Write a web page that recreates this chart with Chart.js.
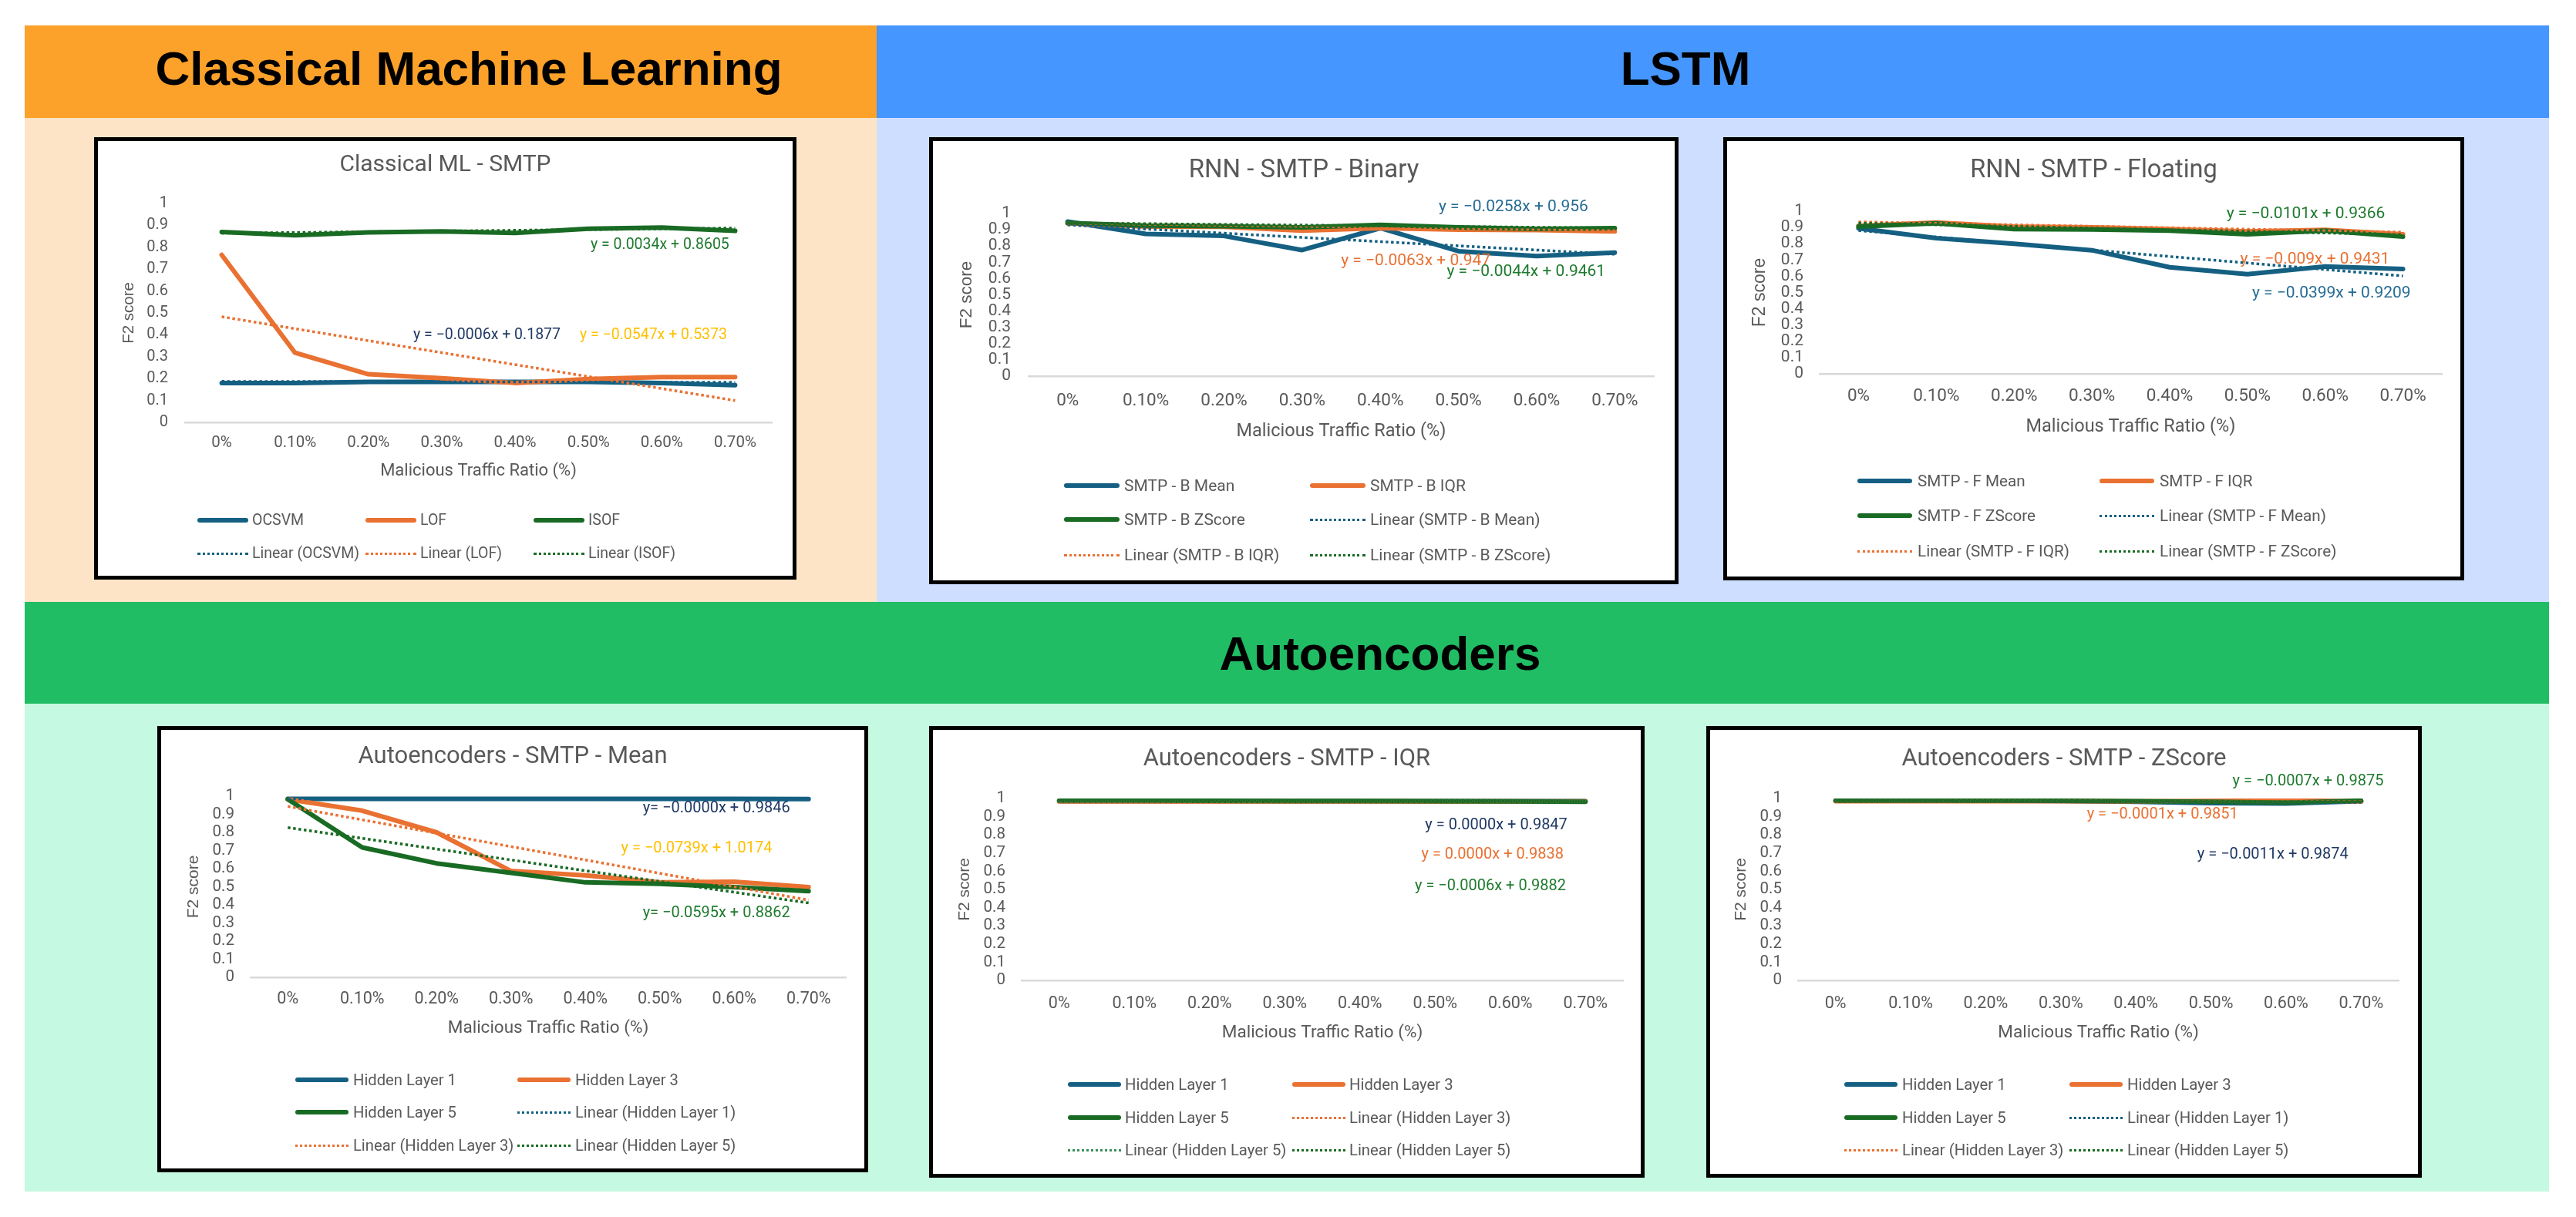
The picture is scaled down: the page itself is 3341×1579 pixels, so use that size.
<!DOCTYPE html>
<html><head><meta charset="utf-8">
<script src="https://cdn.jsdelivr.net/npm/chart.js@4.4.1/dist/chart.umd.min.js"></script>
<style>
html,body{margin:0;padding:0;background:#fff;}
body{width:3341px;height:1579px;position:relative;overflow:hidden;font-family:Roboto,sans-serif;}
.band{position:absolute;}
.hdr{position:absolute;font-family:"Liberation Sans",Arial,sans-serif;font-weight:bold;font-size:62px;color:#000;white-space:nowrap;transform:translate(-50%,-50%);line-height:1;}
.box{position:absolute;background:#fff;border:5px solid #000;box-sizing:border-box;}
.lg{position:absolute;white-space:nowrap;color:#595959;font-family:Roboto,sans-serif;line-height:1;transform:translateY(-50%);}
canvas{position:absolute;}
</style></head><body>
<div class="band" style="left:32px;top:33px;width:1105px;height:120px;background:#FCA12A"></div>
<div class="band" style="left:1137px;top:33px;width:2169px;height:120px;background:#4596FF"></div>
<div class="band" style="left:32px;top:153px;width:1105px;height:628px;background:#FDE4C6"></div>
<div class="band" style="left:1137px;top:153px;width:2169px;height:628px;background:#CEDEFF"></div>
<div class="band" style="left:32px;top:781px;width:3274px;height:132px;background:#20BD65"></div>
<div class="band" style="left:32px;top:913px;width:3274px;height:633px;background:#C5F9E1"></div>
<div class="hdr" style="left:608px;top:89px">Classical Machine Learning</div>
<div class="hdr" style="left:2186px;top:89px">LSTM</div>
<div class="hdr" style="left:1790px;top:848px">Autoencoders</div>
<script>
// ---------- data ----------
const categories = ['0%','0.10%','0.20%','0.30%','0.40%','0.50%','0.60%','0.70%'];
const xAxisTitle = 'Malicious Traffic Ratio (%)';
const yAxisTitle = 'F2 score';

// Classical ML - SMTP
const mlOCSVM = [0.18,0.18,0.185,0.185,0.185,0.185,0.18,0.17];
const mlLOF   = [0.765,0.318,0.22,0.202,0.18,0.198,0.207,0.207];
const mlISOF  = [0.87,0.855,0.868,0.872,0.865,0.885,0.89,0.875];
const mlTrendOCSVM = [0.1871,0.1829];
const mlTrendLOF   = [0.4826,0.0997];
const mlTrendISOF  = [0.8639,0.8877];
const mlEquations  = ['y = 0.0034x + 0.8605','y = \u22120.0006x + 0.1877','y = \u22120.0547x + 0.5373'];

// RNN - SMTP - Binary
const rnnBMean   = [0.95,0.874,0.862,0.775,0.91,0.768,0.738,0.76];
const rnnBIQR    = [0.94,0.92,0.918,0.895,0.91,0.9,0.898,0.89];
const rnnBZScore = [0.942,0.925,0.922,0.915,0.93,0.915,0.905,0.91];
const rnnBTrendMean   = [0.9302,0.7496];
const rnnBTrendIQR    = [0.9407,0.8966];
const rnnBTrendZScore = [0.9417,0.9109];
const rnnBEquations = ['y = \u22120.0258x + 0.956','y = \u22120.0063x + 0.947','y = \u22120.0044x + 0.9461'];

// RNN - SMTP - Floating
const rnnFMean   = [0.895,0.834,0.8,0.76,0.655,0.613,0.66,0.645];
const rnnFIQR    = [0.91,0.93,0.905,0.9,0.89,0.876,0.885,0.858];
const rnnFZScore = [0.905,0.925,0.89,0.888,0.88,0.858,0.88,0.843];
const rnnFTrendMean   = [0.881,0.6017];
const rnnFTrendIQR    = [0.9341,0.8711];
const rnnFTrendZScore = [0.9265,0.8558];
const rnnFEquations = ['y = \u22120.0101x + 0.9366','y = \u22120.009x + 0.9431','y = \u22120.0399x + 0.9209'];

// Autoencoders - SMTP - Mean
const aeMeanHL1 = [0.985,0.985,0.985,0.985,0.985,0.985,0.985,0.984];
const aeMeanHL3 = [0.983,0.92,0.8,0.587,0.563,0.524,0.528,0.498];
const aeMeanHL5 = [0.983,0.717,0.629,0.577,0.524,0.516,0.498,0.476];
const aeMeanTrendHL1 = [0.9846,0.9846];
const aeMeanTrendHL3 = [0.9435,0.4262];
const aeMeanTrendHL5 = [0.8267,0.4102];
const aeMeanEquations = ['y= \u22120.0000x + 0.9846','y = \u22120.0739x + 1.0174','y= \u22120.0595x + 0.8862'];

// Autoencoders - SMTP - IQR
const aeIqrHL1 = [0.985,0.985,0.985,0.985,0.985,0.985,0.985,0.985];
const aeIqrHL3 = [0.984,0.984,0.984,0.984,0.984,0.984,0.984,0.984];
const aeIqrHL5 = [0.988,0.988,0.987,0.986,0.986,0.985,0.984,0.982];
const aeIqrTrendHL1 = [0.9847,0.9847];
const aeIqrTrendHL3 = [0.9838,0.9838];
const aeIqrTrendHL5 = [0.9876,0.9834];
const aeIqrEquations = ['y = 0.0000x + 0.9847','y = 0.0000x + 0.9838','y = \u22120.0006x + 0.9882'];

// Autoencoders - SMTP - ZScore
const aeZHL1 = [0.988,0.988,0.988,0.986,0.982,0.975,0.972,0.985];
const aeZHL3 = [0.985,0.985,0.985,0.985,0.984,0.986,0.99,0.984];
const aeZHL5 = [0.988,0.988,0.988,0.987,0.985,0.982,0.977,0.988];
const aeZTrendHL1 = [0.9863,0.9786];
const aeZTrendHL3 = [0.985,0.9843];
const aeZTrendHL5 = [0.9868,0.9819];
const aeZEquations = ['y = \u22120.0007x + 0.9875','y = \u22120.0001x + 0.9851','y = \u22120.0011x + 0.9874'];

// ---------- styles ----------
const BLUE='#156082', ORANGE='#E97132', GREEN='#196B24';
const NAVY='#1F3864', YELLOW='#FFC000', EQGREEN='#1E7A2E', EQBLUE='#266C94';

function S(label,data,color){return {label,data,color,trend:false};}
function T(label,ends,color){return {label,data:[ends[0],null,null,null,null,null,null,ends[1]],color,trend:true};}

const charts = [
 {box:[122,178,1033,752],plot:[240,264,1001,548],title:'Classical ML - SMTP',titleY:214,titleSize:30,
  f2X:167,f2Size:20.5,yLabRight:218,yTickSize:20,xLabY:575,xTickSize:20.5,xTitleY:611,xTitleSize:22,
  legend:{rows:[675,718],cols:[256,474,692],len:66,gap:5,size:19.5,ncols:3},eqSize:19.5,
  series:[S('OCSVM',mlOCSVM,BLUE),S('LOF',mlLOF,ORANGE),S('ISOF',mlISOF,GREEN),
          T('Linear (OCSVM)',mlTrendOCSVM,BLUE),T('Linear (LOF)',mlTrendLOF,ORANGE),T('Linear (ISOF)',mlTrendISOF,GREEN)],
  eqs:[{text:mlEquations[0],color:EQGREEN,x:6.92,y:0.81},{text:mlEquations[1],color:NAVY,x:4.62,y:0.398},{text:mlEquations[2],color:YELLOW,x:6.89,y:0.398}]},
 {box:[1205,178,2177,758],plot:[1334,277,2145,488],title:'RNN - SMTP - Binary',titleY:222,titleSize:33,
  f2X:1254,f2Size:22.5,yLabRight:1311,yTickSize:21,xLabY:520,xTickSize:22.5,xTitleY:560,xTitleSize:23.5,
  legend:{rows:[630,674,720],cols:[1380,1699],len:72,gap:6,size:21,ncols:2},eqSize:21,
  series:[S('SMTP - B Mean',rnnBMean,BLUE),S('SMTP - B IQR',rnnBIQR,ORANGE),S('SMTP - B ZScore',rnnBZScore,GREEN),
          T('Linear (SMTP - B Mean)',rnnBTrendMean,BLUE),T('Linear (SMTP - B IQR)',rnnBTrendIQR,ORANGE),T('Linear (SMTP - B ZScore)',rnnBTrendZScore,GREEN)],
  eqs:[{text:rnnBEquations[0],color:EQBLUE,x:6.66,y:1.038},{text:rnnBEquations[1],color:ORANGE,x:5.41,y:0.706},{text:rnnBEquations[2],color:EQGREEN,x:6.88,y:0.64}]},
 {box:[2235,178,3196,753],plot:[2360,274,3167,485],title:'RNN - SMTP - Floating',titleY:222,titleSize:32.5,
  f2X:2283,f2Size:23,yLabRight:2339,yTickSize:21,xLabY:514,xTickSize:22.5,xTitleY:554,xTitleSize:23.5,
  legend:{rows:[624,669,715],cols:[2409,2723],len:71,gap:7,size:20.7,ncols:2},eqSize:21,
  series:[S('SMTP - F Mean',rnnFMean,BLUE),S('SMTP - F IQR',rnnFIQR,ORANGE),S('SMTP - F ZScore',rnnFZScore,GREEN),
          T('Linear (SMTP - F Mean)',rnnFTrendMean,BLUE),T('Linear (SMTP - F IQR)',rnnFTrendIQR,ORANGE),T('Linear (SMTP - F ZScore)',rnnFTrendZScore,GREEN)],
  eqs:[{text:rnnFEquations[0],color:EQGREEN,x:6.77,y:0.981},{text:rnnFEquations[1],color:ORANGE,x:6.83,y:0.701},{text:rnnFEquations[2],color:EQBLUE,x:7.1,y:0.493}]},
 {box:[204,942,1126,1521],plot:[325,1033,1097,1268],title:'Autoencoders - SMTP - Mean',titleY:982,titleSize:31,
  f2X:251,f2Size:21,yLabRight:304,yTickSize:20.5,xLabY:1297,xTickSize:21.5,xTitleY:1334,xTitleSize:22.5,
  legend:{rows:[1401,1443,1486],cols:[383,671],len:69,gap:6,size:20.2,ncols:2},eqSize:20,
  series:[S('Hidden Layer 1',aeMeanHL1,BLUE),S('Hidden Layer 3',aeMeanHL3,ORANGE),S('Hidden Layer 5',aeMeanHL5,GREEN),
          T('Linear (Hidden Layer 1)',aeMeanTrendHL1,BLUE),T('Linear (Hidden Layer 3)',aeMeanTrendHL3,ORANGE),T('Linear (Hidden Layer 5)',aeMeanTrendHL5,GREEN)],
  eqs:[{text:aeMeanEquations[0],color:NAVY,x:6.75,y:0.932},{text:aeMeanEquations[1],color:YELLOW,x:6.51,y:0.711},{text:aeMeanEquations[2],color:EQGREEN,x:6.75,y:0.353}]},
 {box:[1205,942,2133,1528],plot:[1325,1036,2105,1272],title:'Autoencoders - SMTP - IQR',titleY:985,titleSize:31,
  f2X:1251,f2Size:21,yLabRight:1304,yTickSize:20.5,xLabY:1303,xTickSize:21.5,xTitleY:1340,xTitleSize:22.5,
  legend:{rows:[1407,1450,1492],cols:[1385,1676],len:69,gap:5,size:20.3,ncols:2},eqSize:20,
  series:[S('Hidden Layer 1',aeIqrHL1,BLUE),S('Hidden Layer 3',aeIqrHL3,ORANGE),S('Hidden Layer 5',aeIqrHL5,GREEN),
          T('Linear (Hidden Layer 3)',aeIqrTrendHL3,ORANGE),T('Linear (Hidden Layer 5)',aeIqrTrendHL1,'#3B8F5A'),T('Linear (Hidden Layer 5)',aeIqrTrendHL5,GREEN)],
  eqs:[{text:aeIqrEquations[0],color:NAVY,x:6.76,y:0.852},{text:aeIqrEquations[1],color:ORANGE,x:6.71,y:0.691},{text:aeIqrEquations[2],color:EQGREEN,x:6.74,y:0.517}]},
 {box:[2213,942,3141,1528],plot:[2332,1036,3111,1272],title:'Autoencoders - SMTP - ZScore',titleY:985,titleSize:31,
  f2X:2258,f2Size:21,yLabRight:2311,yTickSize:20.5,xLabY:1303,xTickSize:21.5,xTitleY:1340,xTitleSize:22.5,
  legend:{rows:[1407,1450,1492],cols:[2392,2684],len:69,gap:6,size:20.3,ncols:2},eqSize:20,
  series:[S('Hidden Layer 1',aeZHL1,BLUE),S('Hidden Layer 3',aeZHL3,ORANGE),S('Hidden Layer 5',aeZHL5,GREEN),
          T('Linear (Hidden Layer 1)',aeZTrendHL1,BLUE),T('Linear (Hidden Layer 3)',aeZTrendHL3,ORANGE),T('Linear (Hidden Layer 5)',aeZTrendHL5,GREEN)],
  eqs:[{text:aeZEquations[0],color:EQGREEN,x:7.3,y:1.093},{text:aeZEquations[1],color:ORANGE,x:5.36,y:0.911},{text:aeZEquations[2],color:NAVY,x:6.83,y:0.691}]}
];

const eqPlugin = {
  id:'eqLabels',
  afterDatasetsDraw(chart,args,opts){
    const ctx=chart.ctx, xs=chart.scales.x, ys=chart.scales.y;
    ctx.save();
    ctx.font = opts.size+'px Roboto';
    ctx.textAlign='right'; ctx.textBaseline='middle';
    (opts.items||[]).forEach(e=>{ctx.fillStyle=e.color; ctx.fillText(e.text, xs.getPixelForValue(e.x), ys.getPixelForValue(e.y));});
    ctx.restore();
  }
};

Chart.defaults.font.family='Roboto';
Chart.defaults.color='#595959';

function build(cfg){
  const [L,T0,R,B]=cfg.box, bw=5;
  const box=document.createElement('div'); box.className='box';
  Object.assign(box.style,{left:L+'px',top:T0+'px',width:(R-L)+'px',height:(B-T0)+'px'});
  document.body.appendChild(box);
  const ox=L+bw, oy=T0+bw, cw=R-L-2*bw, ch=B-T0-2*bw;
  const cv=document.createElement('canvas'); cv.width=cw; cv.height=ch;
  cv.style.left=ox+'px'; cv.style.top=oy+'px'; cv.style.width=cw+'px'; cv.style.height=ch+'px';
  document.body.appendChild(cv);
  const [pl,pt,pr,pb]=cfg.plot;
  const tlh=cfg.titleSize*1.2;
  const tPadTop=cfg.titleY-oy-tlh/2;
  const tPadBot=pt-oy-tPadTop-tlh;
  const xlh=cfg.xTitleSize*1.2;
  const xH=(cfg.xTitleY-pb)+xlh/2+4;
  const padBottom=oy+ch-pb-xH;
  const yW=pl-ox, rW=ox+cw-pr;
  const f2Pad=cfg.f2X-ox-cfg.f2Size*0.6;
  const n=cfg.series.length;
  const datasets=cfg.series.map((s,i)=>({
    label:s.label,data:s.data,borderColor:s.color,backgroundColor:s.color,
    borderWidth:s.trend?3.5:6,borderDash:s.trend?[3.5,3.5]:[],spanGaps:true,
    pointRadius:0,pointHoverRadius:0,tension:0,fill:false,
    borderCapStyle:s.trend?'butt':'round',borderJoinStyle:'round',order:n-i
  }));
  new Chart(cv,{type:'line',data:{labels:categories,datasets},
    options:{responsive:false,animation:false,devicePixelRatio:1,
      layout:{padding:{left:0,right:0,top:0,bottom:padBottom}},
      plugins:{legend:{display:false},tooltip:{enabled:false},
        title:{display:true,text:cfg.title,color:'#595959',font:{family:'Roboto',size:cfg.titleSize,weight:'normal',lineHeight:1.2},padding:{top:tPadTop,bottom:tPadBot}},
        eqLabels:{items:cfg.eqs,size:cfg.eqSize}},
      scales:{
        x:{type:'category',offset:true,grid:{display:false,drawTicks:false},border:{display:true,color:'#D9D9D9',width:2.5},
          ticks:{color:'#595959',font:{size:cfg.xTickSize,lineHeight:1.2},padding:cfg.xLabY-pb-cfg.xTickSize*0.6,maxRotation:0,minRotation:0,autoSkip:false},
          title:{display:true,text:xAxisTitle,color:'#595959',font:{size:cfg.xTitleSize,lineHeight:1.2},padding:{top:0,bottom:4}},
          afterFit(s){s.height=xH;}},
        y:{type:'linear',position:'left',min:0,max:1,grid:{display:false,drawTicks:false},border:{display:false},
          ticks:{stepSize:0.1,autoSkip:false,color:'#595959',font:{size:cfg.yTickSize,lineHeight:1},padding:pl-cfg.yLabRight,
            callback:v=>String(Math.round(v*10)/10)},
          title:{display:true,text:yAxisTitle,color:'#595959',font:{family:'Liberation Sans',size:cfg.f2Size,lineHeight:1.2},padding:{top:f2Pad,bottom:f2Pad}},
          afterFit(s){s.width=yW;}},
        y2:{type:'linear',position:'right',min:0,max:1,grid:{display:false,drawTicks:false},border:{display:false},ticks:{display:false},
          afterFit(s){s.width=rW;}}
      }},
    plugins:[eqPlugin]});
  // legend
  const lg=cfg.legend;
  cfg.series.forEach((s,i)=>{
    const r=Math.floor(i/lg.ncols), c=i%lg.ncols;
    const y=lg.rows[r], x=lg.cols[c];
    const smp=document.createElement('div'); smp.style.position='absolute';
    smp.style.left=x+'px'; smp.style.width=lg.len+'px';
    if(s.trend){smp.style.top=(y-1.5)+'px';smp.style.height='0px';smp.style.borderTop='3px dotted '+s.color;}
    else{smp.style.top=(y-3)+'px';smp.style.height='6px';smp.style.background=s.color;smp.style.borderRadius='3px';}
    document.body.appendChild(smp);
    const t=document.createElement('div'); t.className='lg';
    t.style.left=(x+lg.len+lg.gap)+'px'; t.style.top=y+'px'; t.style.fontSize=lg.size+'px';
    t.textContent=s.label;
    document.body.appendChild(t);
  });
}
charts.forEach(build);
</script>
</body></html>
